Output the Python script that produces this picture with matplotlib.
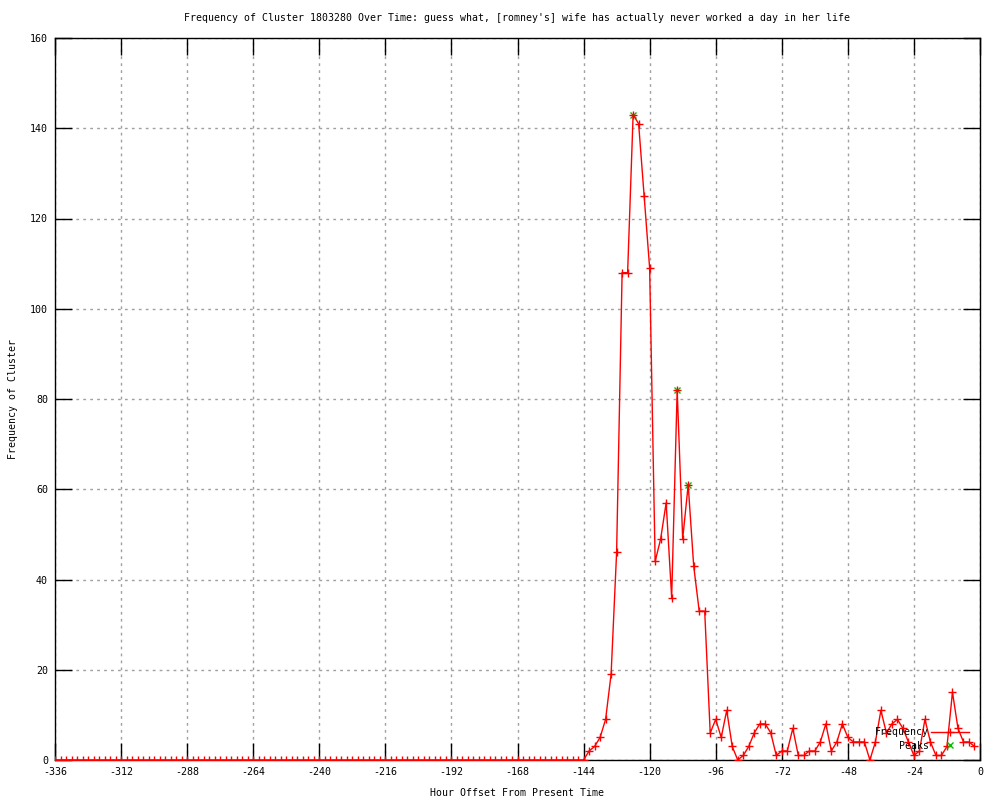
import numpy as np
import matplotlib
matplotlib.use("Agg")
import matplotlib.pyplot as plt

plt.rcParams['font.family'] = ['DejaVu Sans Mono']
plt.rcParams['axes.unicode_minus'] = False

# hour offsets, one sample every 2 hours
hours = np.arange(-336, 0, 2)

freq = [0, 0, 0, 0, 0, 0, 0, 0, 0, 0, 0, 0, 0, 0, 0, 0, 0, 0, 0, 0,
        0, 0, 0, 0, 0, 0, 0, 0, 0, 0, 0, 0, 0, 0, 0, 0, 0, 0, 0, 0,
        0, 0, 0, 0, 0, 0, 0, 0, 0, 0, 0, 0, 0, 0, 0, 0, 0, 0, 0, 0,
        0, 0, 0, 0, 0, 0, 0, 0, 0, 0, 0, 0, 0, 0, 0, 0, 0, 0, 0, 0,
        0, 0, 0, 0, 0, 0, 0, 0, 0, 0, 0, 0, 0, 0, 0, 0, 0,
        2, 3, 5, 9, 19, 46, 108, 108, 143, 141, 125, 109, 44, 49, 57, 36,
        82, 49, 61, 43, 33, 33, 6, 9, 5, 11, 3, 0, 1, 3, 6, 8, 8, 6, 1, 2,
        2, 7, 1, 1, 2, 2, 4, 8, 2, 4, 8, 5, 4, 4, 4, 0, 4, 11, 6, 8, 9, 7,
        4, 1, 2, 9, 4, 1, 1, 3, 15, 7, 4, 4, 3]

peak_hours = [-126, -110, -106]
peak_vals = [143, 82, 61]

fig = plt.figure(figsize=(10, 8), dpi=100)
ax = fig.add_axes([0.055, 0.05, 0.925, 0.9025])

# peaks underneath, frequency on top
ax.plot(peak_hours, peak_vals, linestyle='none', marker='x', color='#00c000',
        markersize=5, markeredgewidth=1, label='Peaks', zorder=2)
ax.plot(hours, freq, color='#ff0000', linewidth=1, marker='+', markersize=5.5,
        markeredgewidth=1, label='Frequency', zorder=3)

ax.set_xlim(-336, 0)
ax.set_ylim(0, 160)
ax.set_xticks(np.arange(-336, 1, 24))
ax.set_yticks(np.arange(0, 161, 20))
ax.tick_params(direction='in', length=12, width=1, top=True, right=True,
               labelsize=7.2, pad=5)
ax.grid(True, color='#a0a0a0', linestyle=(0, (2, 3)), linewidth=1)
for s in ax.spines.values():
    s.set_linewidth(1)

ax.set_title("Frequency of Cluster 1803280 Over Time: guess what, [romney's] wife has actually never worked a day in her life",
             fontsize=7.1, pad=12)
ax.set_xlabel("Hour Offset From Present Time", fontsize=7.1, labelpad=8)
ax.set_ylabel("Frequency of Cluster", fontsize=7.1)
ax.yaxis.set_label_coords(-0.04, 0.5)

handles, labels = ax.get_legend_handles_labels()
ax.legend(handles[::-1], labels[::-1], loc='lower right', bbox_to_anchor=(0.9876, 0.013),
          frameon=False, markerfirst=False, numpoints=1, fontsize=7.1,
          handlelength=3.8, handletextpad=0.2, labelspacing=0.35, borderpad=0,
          borderaxespad=0)

fig.savefig('out.png', dpi=100)
